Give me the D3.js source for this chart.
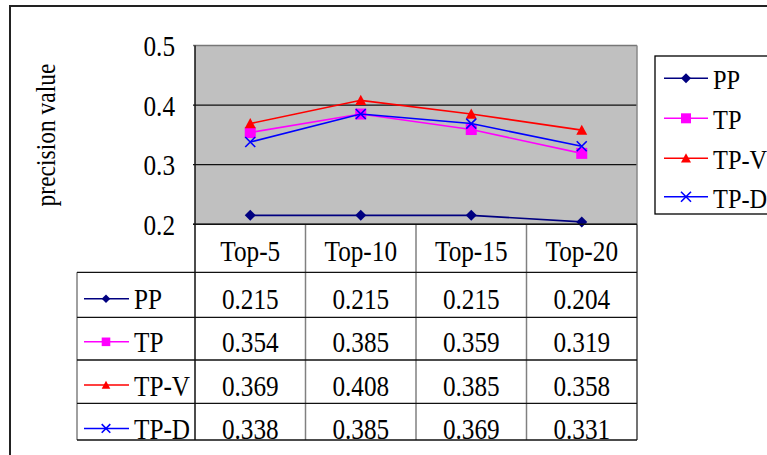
<!DOCTYPE html>
<html>
<head>
<meta charset="utf-8">
<script src="https://cdn.jsdelivr.net/npm/d3@7"></script>
<style>
  html, body { margin: 0; padding: 0; background: #fff; }
  svg text { font-family: "Liberation Serif", "Times New Roman", serif; fill: #000; }
</style>
</head>
<body>
<svg id="chart" width="767" height="455"></svg>
<script>
// Categories and precision values per method
const categories = ["Top-5", "Top-10", "Top-15", "Top-20"];
const seriesNames = ["PP", "TP", "TP-V", "TP-D"];
const ppValues  = [0.215, 0.215, 0.215, 0.204];
const tpValues  = [0.354, 0.385, 0.359, 0.319];
const tpvValues = [0.369, 0.408, 0.385, 0.358];
const tpdValues = [0.338, 0.385, 0.369, 0.331];
const yTicks = [0.2, 0.3, 0.4, 0.5];
const yLabel = "precision value";

const colors = { "PP": "#000080", "TP": "#FF00FF", "TP-V": "#FF0000", "TP-D": "#0000FF" };
const markers = { "PP": "diamond", "TP": "square", "TP-V": "triangle", "TP-D": "x" };

const series = [
  { name: "PP",   values: ppValues },
  { name: "TP",   values: tpValues },
  { name: "TP-V", values: tpvValues },
  { name: "TP-D", values: tpdValues }
];

const svg = d3.select("#chart");
const SX = 0.87; // horizontal squeeze for the tall, narrow serif look

// Plot area
const plot = { left: 195, right: 637, top: 45.5, bottom: 224.3 };
const x = d3.scaleBand().domain(categories).range([plot.left, plot.right]).padding(0);
const y = d3.scaleLinear().domain([0.2, 0.5]).range([plot.bottom, plot.top]);
const cx = c => x(c) + x.bandwidth() / 2;

// Marker shape path centered on origin
function markerPath(type, r) {
  if (type === "diamond") return `M0,${-r}L${r},0L0,${r}L${-r},0Z`;
  if (type === "square") return `M${-r},${-r}H${r}V${r}H${-r}Z`;
  if (type === "triangle") return `M0,${-r}L${r},${r * 0.85}L${-r},${r * 0.85}Z`;
  return `M${-r},${-r}L${r},${r}M${-r},${r}L${r},${-r}`;
}
function drawMarker(g, name, r) {
  const type = markers[name];
  const p = g.append("path").attr("d", markerPath(type, r));
  if (type === "x") p.attr("fill", "none").attr("stroke", colors[name]).attr("stroke-width", 1.6);
  else p.attr("fill", colors[name]).attr("stroke", "none");
  return p;
}
function squeezedText(parent, str, tx, ty, size, anchor, rot) {
  return parent.append("text")
    .attr("transform", `translate(${tx},${ty})${rot ? ` rotate(${rot})` : ""} scale(${SX},1)`)
    .attr("text-anchor", anchor || "start")
    .style("font-size", size + "px")
    .text(str);
}

// Outer chart frame
svg.append("rect").attr("x", 10).attr("y", 6).attr("width", 800).attr("height", 500)
  .attr("fill", "none").attr("stroke", "#222").attr("stroke-width", 2);

// Plot background
svg.append("rect").attr("x", plot.left).attr("y", plot.top)
  .attr("width", plot.right - plot.left).attr("height", plot.bottom - plot.top)
  .attr("fill", "#C0C0C0");

// Horizontal gridlines
svg.append("g").selectAll("line").data(yTicks.filter(t => t < 0.5)).join("line")
  .attr("x1", plot.left - 2).attr("x2", plot.right)
  .attr("y1", d => y(d)).attr("y2", d => y(d))
  .attr("stroke", "#111").attr("stroke-width", 1.2);
// Plot top and right edges
svg.append("line").attr("x1", plot.left - 2).attr("x2", plot.right)
  .attr("y1", y(0.5)).attr("y2", y(0.5)).attr("stroke", "#777").attr("stroke-width", 1.5);
svg.append("line").attr("x1", plot.right).attr("x2", plot.right)
  .attr("y1", plot.top).attr("y2", plot.bottom).attr("stroke", "#888").attr("stroke-width", 1.5);

// Y axis with tick labels
const yAxis = d3.axisLeft(y).tickValues(yTicks).tickFormat(d3.format(".1f")).tickSize(0).tickPadding(0);
const ag = svg.append("g").attr("transform", `translate(${plot.left},0)`).call(yAxis);
ag.select(".domain").remove();
ag.selectAll(".tick text")
  .attr("x", null).attr("dy", null)
  .attr("transform", `translate(-20,10) scale(${SX},1)`)
  .attr("text-anchor", "end")
  .style("font-size", "29px")
  .style("font-family", '"Liberation Serif", "Times New Roman", serif')
  .attr("fill", "#000");

// Y axis title
squeezedText(svg, yLabel, 55, 135, 27, "middle", -90);

// Series lines and markers
const line = d3.line().x((d, i) => cx(categories[i])).y(d => y(d));
series.forEach(s => {
  svg.append("path").datum(s.values).attr("d", line)
    .attr("fill", "none").attr("stroke", colors[s.name]).attr("stroke-width", 1.6);
  s.values.forEach((v, i) => {
    const g = svg.append("g").attr("transform", `translate(${cx(categories[i])},${y(v)})`);
    drawMarker(g, s.name, s.name === "TP-D" ? 5 : 5.5);
  });
});

// Data table below the plot
const tableLeft = 77;
const headerBottom = 272.3;
const rowTops = [272.3, 317.3, 360, 403.3];
const rowHeights = [45, 42.7, 43.3, 43.5];
const tableBottom = 440;

svg.append("defs").append("clipPath").attr("id", "tableClip")
  .append("rect").attr("x", 0).attr("y", plot.bottom).attr("width", 767).attr("height", tableBottom - plot.bottom);

const tg = svg.append("g");
// Column dividers
categories.slice(1).forEach(c => {
  tg.append("line").attr("x1", x(c)).attr("x2", x(c)).attr("y1", plot.bottom).attr("y2", tableBottom)
    .attr("stroke", "#808080").attr("stroke-width", 1.5);
});
tg.append("line").attr("x1", plot.right).attr("x2", plot.right).attr("y1", plot.bottom).attr("y2", tableBottom)
  .attr("stroke", "#444").attr("stroke-width", 1.5);
tg.append("line").attr("x1", tableLeft).attr("x2", tableLeft).attr("y1", headerBottom).attr("y2", tableBottom)
  .attr("stroke", "#808080").attr("stroke-width", 1.5);
// Row lines
rowTops.concat([tableBottom]).forEach(ry => {
  tg.append("line").attr("x1", tableLeft).attr("x2", plot.right).attr("y1", ry).attr("y2", ry)
    .attr("stroke", "#111").attr("stroke-width", 1.3);
});
// Left axis line running from plot top through the table
svg.append("line").attr("x1", plot.left).attr("x2", plot.left).attr("y1", plot.top).attr("y2", tableBottom)
  .attr("stroke", "#111").attr("stroke-width", 1.5);
// Bottom of plot
svg.append("line").attr("x1", plot.left - 2).attr("x2", plot.right).attr("y1", plot.bottom).attr("y2", plot.bottom)
  .attr("stroke", "#111").attr("stroke-width", 1.5);

// Header labels
const textG = svg.append("g").attr("clip-path", "url(#tableClip)");
categories.forEach(c => squeezedText(textG, c, cx(c), 260.7, 29, "middle"));

// Rows: legend key + values
const fmt = d3.format(".3f");
series.forEach((s, r) => {
  const base = rowTops[r] + rowHeights[r] * 0.82;
  const ly = base - 10.5;
  textG.append("line").attr("x1", 84).attr("x2", 129).attr("y1", ly).attr("y2", ly)
    .attr("stroke", colors[s.name]).attr("stroke-width", 1.6);
  drawMarker(textG.append("g").attr("transform", `translate(106,${ly})`), s.name, 4.3);
  squeezedText(textG, s.name, 134, base, 29, "start");
  s.values.forEach((v, i) => squeezedText(textG, fmt(v), cx(categories[i]), base, 29, "middle"));
});

// Legend box
const lg = svg.append("g");
lg.append("rect").attr("x", 655).attr("y", 56).attr("width", 130).attr("height", 158)
  .attr("fill", "#fff").attr("stroke", "#000").attr("stroke-width", 1.3);
const legendY = [78.3, 118.3, 158.3, 196.7];
series.forEach((s, i) => {
  const ly = legendY[i];
  lg.append("line").attr("x1", 664).attr("x2", 708).attr("y1", ly).attr("y2", ly)
    .attr("stroke", colors[s.name]).attr("stroke-width", 1.6);
  drawMarker(lg.append("g").attr("transform", `translate(686,${ly})`), s.name, 5);
  squeezedText(lg, s.name, 713, ly + 11, 28, "start");
});
</script>
</body>
</html>
